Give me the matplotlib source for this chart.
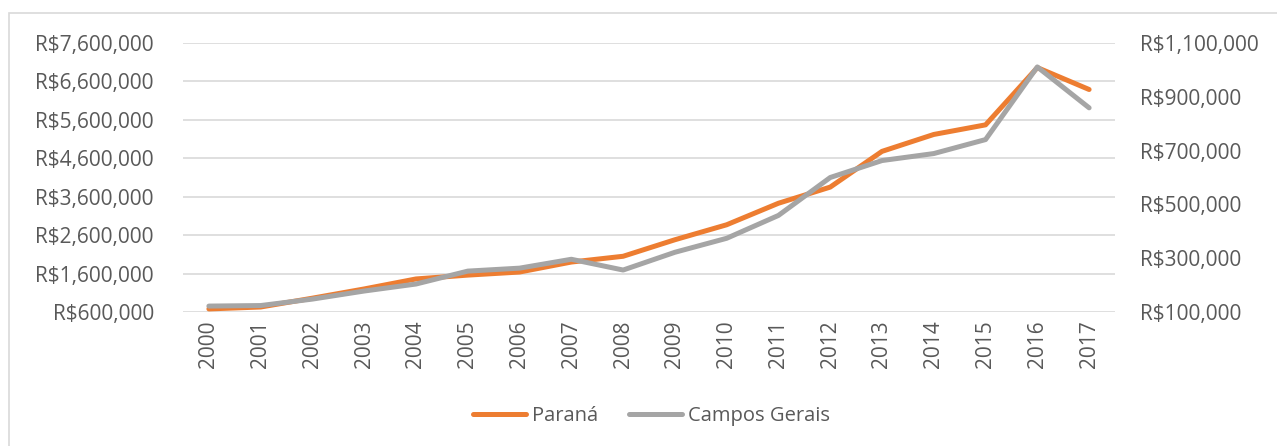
import matplotlib.pyplot as plt
from matplotlib.ticker import FuncFormatter
from matplotlib.patches import Rectangle

years = ['2000', '2001', '2002', '2003', '2004', '2005', '2006', '2007', '2008',
         '2009', '2010', '2011', '2012', '2013', '2014', '2015', '2016', '2017']
parana = [680000, 730000, 960000, 1200000, 1460000, 1560000, 1640000, 1900000, 2050000,
          2480000, 2870000, 3430000, 3850000, 4780000, 5220000, 5470000, 6960000, 6390000]
campos_gerais = [122000, 124000, 148000, 178000, 204000, 252000, 263000, 296000, 256000,
                 322000, 374000, 459000, 600000, 663000, 689000, 741000, 1011000, 859000]

left_ticks = [600000 + 1000000 * i for i in range(8)]
right_ticks = [100000 + 200000 * i for i in range(6)]

plt.rcParams['font.family'] = ['Open Sans', 'DejaVu Sans']
text_color = '#595959'

def money(v, pos=None):
    return 'R$' + format(int(round(v)), ',')

fig = plt.figure(figsize=(12.77, 4.46), dpi=100)
fig.patches.append(Rectangle((9 / 1277, -0.05), 1.2, 1 - 13 / 446 + 0.05,
                             transform=fig.transFigure, fill=False,
                             edgecolor='#D9D9D9', linewidth=1.2))

ax = fig.add_axes([183 / 1277, 1 - 312 / 446, (1115 - 183) / 1277, (312 - 43) / 446])
ax2 = ax.twinx()

x = list(range(len(years)))
l1, = ax.plot(x, parana, color='#ED7D31', linewidth=3.6, solid_capstyle='round',
              solid_joinstyle='round', label='Paraná', zorder=3)
l2, = ax2.plot(x, campos_gerais, color='#A5A5A5', linewidth=3.6, solid_capstyle='round',
               solid_joinstyle='round', label='Campos Gerais', zorder=3)

ax.set_xlim(-0.5, len(years) - 0.5)
ax.set_ylim(left_ticks[0], left_ticks[-1])
ax.set_yticks(left_ticks)
ax.yaxis.set_major_formatter(FuncFormatter(money))
ax2.set_ylim(right_ticks[0], right_ticks[-1])
ax2.set_yticks(right_ticks)
ax2.yaxis.set_major_formatter(FuncFormatter(money))

ax.set_xticks(x)
ax.set_xticklabels(years, rotation=90)
ax.grid(axis='y', color='#D9D9D9', linewidth=1.2)
ax.set_axisbelow(True)

for a in (ax, ax2):
    for s in a.spines.values():
        s.set_visible(False)
    a.tick_params(length=0, labelsize=15, colors=text_color)
ax.tick_params(axis='y', pad=21)
ax2.tick_params(axis='y', pad=18)
ax.tick_params(axis='x', pad=6)

fig.legend([l1, l2], ['Paraná', 'Campos Gerais'], loc='center', ncol=2,
           bbox_to_anchor=(0.5102, 1 - 416 / 446), frameon=False, fontsize=14.5,
           labelcolor=text_color, handlelength=2.65, handletextpad=0.3,
           columnspacing=1.5)

fig.savefig('out.png', dpi=100)
